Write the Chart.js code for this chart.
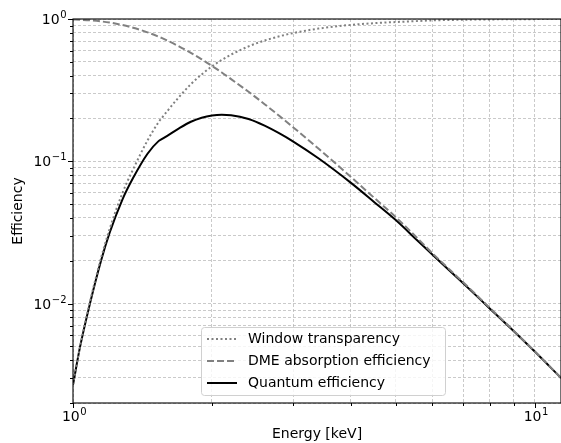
<!DOCTYPE html>
<html>
<head>
<meta charset="utf-8">
<script src="https://cdn.jsdelivr.net/npm/chart.js@4.4.1/dist/chart.umd.min.js"></script>
<style>
  html, body { margin: 0; padding: 0; background: #fff; }
  #wrap { width: 561px; height: 443px; }
</style>
</head>
<body>
<div id="wrap"><canvas id="effChart" width="561" height="443"></canvas></div>
<script>
// Energy grid (keV) and the three curves
const energies = [1.00, 1.035, 1.09, 1.15, 1.20, 1.28, 1.35, 1.45, 1.53, 1.56, 1.60, 1.70, 1.80, 1.90, 2.00, 2.10, 2.20, 2.40, 2.60, 2.80, 3.00, 3.40, 4.00, 4.50, 5.00, 5.60, 6.00, 7.00, 8.00, 9.00, 10.0, 11.4];
const windowTransparency = [0.0027, 0.0049, 0.0105, 0.0209, 0.0333, 0.060, 0.088, 0.140, 0.187, 0.203, 0.225, 0.285, 0.348, 0.408, 0.465, 0.516, 0.562, 0.642, 0.706, 0.756, 0.797, 0.856, 0.909, 0.935, 0.952, 0.968, 0.978, 0.988, 0.993, 0.996, 0.998, 0.999];
const dmeAbsorption = [0.993, 0.988, 0.978, 0.962, 0.944, 0.907, 0.868, 0.806, 0.753, 0.733, 0.706, 0.640, 0.578, 0.521, 0.468, 0.421, 0.378, 0.308, 0.252, 0.208, 0.173, 0.123, 0.0775, 0.055, 0.0405, 0.0283, 0.0226, 0.0141, 0.0093, 0.00645, 0.0046, 0.0030];
const quantumEfficiency = [0.00268, 0.0049, 0.0102, 0.0200, 0.0313, 0.0540, 0.0765, 0.113, 0.138, 0.1435, 0.151, 0.171, 0.1895, 0.2025, 0.210, 0.2125, 0.211, 0.198, 0.178, 0.157, 0.1376, 0.105, 0.0705, 0.0514, 0.0386, 0.0273, 0.0221, 0.0139, 0.0092, 0.00642, 0.0046, 0.0030];

const seriesLabels = ['Window transparency', 'DME absorption efficiency', 'Quantum efficiency'];

// decade tick labels: base 10 with a raised exponent
const xMajorTicks = [1, 10];
const xTickExponents = ['0', '1'];
const yMajorTicks = [0.01, 0.1, 1];
const yTickExponents = ['\u22122', '\u22121', '0'];

const xMin = 1, xMax = 11.4;
const yMin = 0.002, yMax = 1;

const FONT = "'DejaVu Sans', sans-serif";

// 1..9 x each decade, kept inside the axis range
function logTicks(decades, lo, hi) {
  const out = [];
  decades.forEach(d => {
    for (let m = 1; m <= 9; m++) {
      const v = d * m;
      if (v >= lo * 0.999 && v <= hi * 1.001) out.push(v);
    }
  });
  return out;
}
const xTickValues = logTicks([1, 10], xMin, xMax);
const yTickValues = logTicks([0.001, 0.01, 0.1, 1], yMin, yMax);

function isMajor(value, majors) {
  return majors.some(t => Math.abs(t - value) < t * 1e-6);
}

// spines, matplotlib-like tick marks and 10^n labels
const axesFrame = {
  id: 'axesFrame',
  afterDraw(chart) {
    const { ctx, chartArea: a, scales } = chart;
    ctx.save();
    ctx.strokeStyle = '#000';
    ctx.lineWidth = 1.1;
    ctx.setLineDash([]);
    ctx.strokeRect(a.left, a.top, a.right - a.left, a.bottom - a.top);

    ctx.lineWidth = 1;
    xTickValues.forEach(v => {
      const x = Math.round(scales.x.getPixelForValue(v)) + 0.5;
      const len = isMajor(v, xMajorTicks) ? 5 : 3;
      ctx.beginPath();
      ctx.moveTo(x, a.bottom);
      ctx.lineTo(x, a.bottom + len);
      ctx.stroke();
    });
    yTickValues.forEach(v => {
      const y = Math.round(scales.y.getPixelForValue(v)) + 0.5;
      const len = isMajor(v, yMajorTicks) ? 5 : 3;
      ctx.beginPath();
      ctx.moveTo(a.left, y);
      ctx.lineTo(a.left - len, y);
      ctx.stroke();
    });

    ctx.fillStyle = '#000';
    ctx.textBaseline = 'alphabetic';
    ctx.textAlign = 'left';
    const baseFont = '14px ' + FONT, expFont = '10px ' + FONT;
    const measure = (exp) => {
      ctx.font = baseFont; const wb = ctx.measureText('10').width;
      ctx.font = expFont; const we = ctx.measureText(exp).width;
      return [wb, we];
    };
    const draw = (x0, base, exp) => {
      const [wb] = measure(exp);
      ctx.font = baseFont; ctx.fillText('10', x0, base);
      ctx.font = expFont; ctx.fillText(exp, x0 + wb + 0.5, base - 6);
    };
    xMajorTicks.forEach((v, i) => {
      const [wb, we] = measure(xTickExponents[i]);
      const x = scales.x.getPixelForValue(v);
      draw(x - (wb + we) / 2 + 1, a.bottom + 18, xTickExponents[i]);
    });
    yMajorTicks.forEach((v, i) => {
      const [wb, we] = measure(yTickExponents[i]);
      const y = scales.y.getPixelForValue(v);
      draw(a.left - 7 - wb - we, y + 5, yTickExponents[i]);
    });
    ctx.restore();
  }
};

// legend box inside the plot, lower middle
const innerLegend = {
  id: 'innerLegend',
  afterDraw(chart) {
    const { ctx } = chart;
    const box = { x: 201, y: 327, w: 244, h: 68 };
    ctx.save();
    ctx.beginPath();
    ctx.roundRect(box.x + 0.5, box.y + 0.5, box.w, box.h, 3);
    ctx.fillStyle = 'rgba(255,255,255,0.8)';
    ctx.fill();
    ctx.strokeStyle = '#d0d0d0';
    ctx.lineWidth = 1;
    ctx.stroke();

    ctx.font = '14px ' + FONT;
    ctx.textBaseline = 'middle';
    ctx.fillStyle = '#000';
    chart.data.datasets.forEach((ds, i) => {
      const y = box.y + 12 + i * 22;
      ctx.beginPath();
      ctx.strokeStyle = ds.borderColor;
      ctx.lineWidth = ds.borderWidth;
      ctx.setLineDash(ds.borderDash || []);
      ctx.moveTo(box.x + 6, y);
      ctx.lineTo(box.x + 36, y);
      ctx.stroke();
      ctx.setLineDash([]);
      ctx.fillText(ds.label, box.x + 47, y);
    });
    ctx.restore();
  }
};

const ctx = document.getElementById('effChart').getContext('2d');

new Chart(ctx, {
  type: 'line',
  data: {
    datasets: [
      {
        label: seriesLabels[0],
        data: energies.map((e, i) => ({ x: e, y: windowTransparency[i] })),
        borderColor: '#808080',
        borderWidth: 2,
        borderDash: [2, 2.5],
        pointRadius: 0,
        fill: false,
        cubicInterpolationMode: 'monotone'
      },
      {
        label: seriesLabels[1],
        data: energies.map((e, i) => ({ x: e, y: dmeAbsorption[i] })),
        borderColor: '#808080',
        borderWidth: 2,
        borderDash: [7, 3],
        pointRadius: 0,
        fill: false,
        cubicInterpolationMode: 'monotone'
      },
      {
        label: seriesLabels[2],
        data: energies.map((e, i) => ({ x: e, y: quantumEfficiency[i] })),
        borderColor: '#000000',
        borderWidth: 2,
        pointRadius: 0,
        fill: false,
        cubicInterpolationMode: 'monotone'
      }
    ]
  },
  options: {
    responsive: false,
    devicePixelRatio: 1,
    animation: false,
    layout: { padding: { top: 19, right: 0, left: 0, bottom: 0 } },
    plugins: {
      legend: { display: false },
      tooltip: { enabled: false }
    },
    scales: {
      x: {
        type: 'logarithmic',
        min: xMin,
        max: xMax,
        afterFit: s => { s.height = 40; },
        afterBuildTicks: s => { s.ticks = xTickValues.map(v => ({ value: v })); },
        ticks: { display: false, autoSkip: false },
        grid: { color: 'rgba(176,176,176,0.85)', lineWidth: 0.8, drawTicks: false },
        border: { display: false, dash: [3, 2] },
        title: {
          display: true,
          text: 'Energy [keV]',
          color: '#000',
          font: { family: FONT, size: 14 },
          padding: { top: 0, bottom: 0 }
        }
      },
      y: {
        type: 'logarithmic',
        min: yMin,
        max: yMax,
        afterFit: s => { s.width = 73; },
        afterBuildTicks: s => { s.ticks = yTickValues.map(v => ({ value: v })); },
        ticks: { display: false, autoSkip: false },
        grid: { color: 'rgba(176,176,176,0.85)', lineWidth: 0.8, drawTicks: false },
        border: { display: false, dash: [3, 2] },
        title: {
          display: true,
          text: 'Efficiency',
          color: '#000',
          font: { family: FONT, size: 14 },
          padding: { top: 10, bottom: 0 }
        }
      }
    }
  },
  plugins: [axesFrame, innerLegend]
});
</script>
</body>
</html>
